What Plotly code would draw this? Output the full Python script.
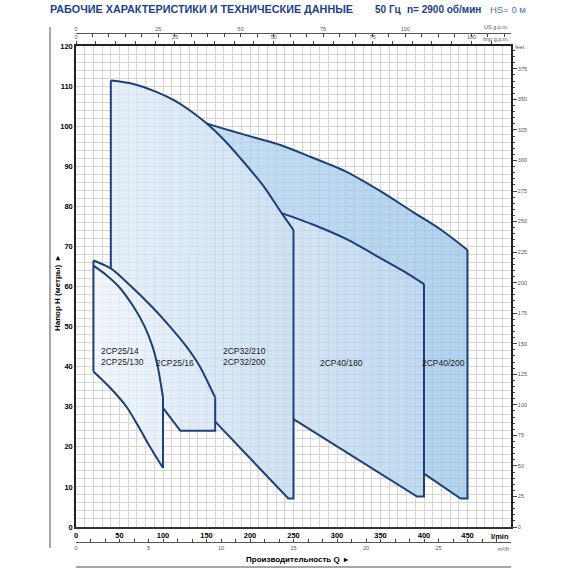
import plotly.graph_objects as go

# ---------------- data (Q in l/min, H in m) ----------------
# 2CP25/14 - 2CP25/130 : upper (inner) curve and lower curve
q25_14_top = [20, 34, 49, 66, 79, 88, 94, 98, 100]
h25_14_top = [65.2, 63.0, 60.0, 55.0, 50.0, 45.0, 40.0, 35.0, 32.3]
q25_14_low = [20, 39, 58, 72, 85, 100]
h25_14_low = [38.8, 34.8, 30.0, 25.0, 20.0, 14.7]

# 2CP25/16 : upper (outer) curve, lower boundary
q25_16_top = [20, 40, 62, 87, 108, 127, 142.5, 154, 160]
h25_16_top = [66.5, 64.5, 60.3, 55.0, 50.0, 45.0, 40.0, 35.0, 32.3]
q25_16_low = [100, 120, 160]
h25_16_low = [29.7, 24.0, 24.0]

# 2CP32/210 - 2CP32/200 : upper curve, lower line
q32_top = [40, 65, 93, 115, 131, 150, 170, 189, 205, 216, 236.4, 250]
h32_top = [111.4, 110.6, 108.5, 106.2, 103.9, 100.7, 96.6, 92.0, 87.9, 84.9, 78.3, 74.1]
q32_low = [160, 244, 250]
h32_low = [26.3, 7.1, 7.1]

# 2CP40/180 : upper curve, lower line
q40_180_top = [236.4, 273, 311, 349, 375, 400]
h40_180_top = [78.3, 75.4, 71.8, 67.2, 64.0, 60.6]
q40_180_low = [250, 392, 400]
h40_180_low = [26.9, 7.6, 7.6]

# 2CP40/200 : upper curve, lower line
q40_200_top = [150, 177, 208, 235, 270, 311, 349, 388, 420, 450]
h40_200_top = [100.7, 98.9, 97.0, 95.3, 92.3, 88.6, 83.9, 78.5, 74.1, 69.1]
q40_200_low = [400, 442, 450]
h40_200_low = [13.3, 7.1, 7.1]

model_labels = ["2CP25/14<br>2CP25/130", "2CP25/16", "2CP32/210<br>2CP32/200",
                "2CP40/180", "2CP40/200"]
label_q = [27, 114, 167, 305, 422]
label_h = [42.5, 41.0, 42.5, 41.0, 41.0]
label_anchor = ["left", "center", "left", "center", "center"]

q_ticks = [0, 50, 100, 150, 200, 250, 300, 350, 400, 450]
h_ticks = [0, 10, 20, 30, 40, 50, 60, 70, 80, 90, 100, 110, 120]
feet_ticks = [0, 25, 50, 75, 100, 125, 150, 175, 200, 225, 250, 275, 300, 325, 350, 375]
usgpm_ticks = [0, 25, 50, 75, 100]
impgpm_ticks = [0, 25, 50, 75, 100]
m3h_ticks = [0, 5, 10, 15, 20, 25]

Q_MAX = 500
H_MAX = 120

# ---------------- build region outlines ----------------
def pts(qs, hs):
    return list(zip(qs, hs))

def seg(qs, hs, lo, hi):
    return [(q, h) for q, h in zip(qs, hs) if lo <= q <= hi]

def rev(p):
    return list(reversed(p))

top14, low14 = pts(q25_14_top, h25_14_top), pts(q25_14_low, h25_14_low)
top16, low16 = pts(q25_16_top, h25_16_top), pts(q25_16_low, h25_16_low)
top32, low32 = pts(q32_top, h32_top), pts(q32_low, h32_low)
top180, low180 = pts(q40_180_top, h40_180_top), pts(q40_180_low, h40_180_low)
top200, low200 = pts(q40_200_top, h40_200_top), pts(q40_200_low, h40_200_low)

poly_25_14 = top14 + rev(low14)
poly_25_16 = top16 + rev(low16) + [top14[-1]] + rev(top14)[1:]
poly_32 = ([top16[1]] + top32 + [(top32[-1][0], low32[-1][1])] + rev(low32)
           + rev(seg(q25_16_top, h25_16_top, q25_16_top[1], q25_16_top[-1])))
poly_40_180 = top180 + rev(low180) + [top32[-1]]
poly_40_200 = (top200 + rev(low200) + rev(top180)
               + rev(seg(q32_top, h32_top, q40_200_top[0], q40_180_top[0]))[1:])

regions = [
    (poly_40_200, "rgba(176,210,238,0.72)", "rgba(148,192,230,0.72)"),
    (poly_40_180, "rgba(198,221,242,0.72)", "rgba(168,202,234,0.72)"),
    (poly_32, "rgba(220,234,247,0.72)", "rgba(188,215,239,0.72)"),
    (poly_25_16, "rgba(236,243,251,0.72)", "rgba(208,226,244,0.72)"),
    (poly_25_14, "rgba(236,243,251,0.72)", "rgba(222,235,248,0.72)"),
]

curves = [top14, low14, top16, top32, top180, top200]
straights = [
    [top14[0], low14[0]], [top14[-1], low14[-1]],
    [top16[0], top14[0]],
    [top14[-1]] + low16 + [top16[-1]],
    [top16[1], top32[0]],
    [top32[-1], (top32[-1][0], low32[-1][1])] + rev(low32),
    [top180[-1], (top180[-1][0], low180[-1][1])] + rev(low180),
    [top200[-1], (top200[-1][0], low200[-1][1])] + rev(low200),
]

LINE = "#1e3f7a"
SANS = "Liberation Sans, Arial, sans-serif"

fig = go.Figure()
for poly, c0, c1 in regions:
    xs = [p[0] for p in poly] + [poly[0][0]]
    ys = [p[1] for p in poly] + [poly[0][1]]
    fig.add_trace(go.Scatter(
        x=xs, y=ys, mode="lines", fill="toself",
        fillgradient=dict(type="horizontal", colorscale=[[0, c0], [1, c1]]),
        line=dict(width=0), hoverinfo="skip", showlegend=False))

for c in curves:
    fig.add_trace(go.Scatter(x=[p[0] for p in c], y=[p[1] for p in c], mode="lines",
                             line=dict(color=LINE, width=2, shape="spline", smoothing=0.8),
                             hoverinfo="skip", showlegend=False))
for s in straights:
    fig.add_trace(go.Scatter(x=[p[0] for p in s], y=[p[1] for p in s], mode="lines",
                             line=dict(color=LINE, width=2),
                             hoverinfo="skip", showlegend=False))

for xa, ya in [("x2", "y"), ("x3", "y"), ("x4", "y"), ("x", "y2")]:
    fig.add_trace(go.Scatter(x=[0], y=[0], xaxis=xa, yaxis=ya, mode="markers",
                             marker=dict(opacity=0), showlegend=False, hoverinfo="skip"))

# paper geometry
L, R, T, B = 76, 59, 20, 10
W = H = 570
PW = W - L - R
PH = H - T - B
def px(x):
    return (x - L) / PW
def py(y):
    return (H - B - y) / PH

plot_top, plot_bot = 46, 527
ydom = [py(plot_bot), py(plot_top)]

GRID = "#d5d5d5"
small = dict(family=SANS, size=5.5, color="#555555")
tickbold = dict(family=SANS, size=7.5, color="black", weight="bold")

fig.update_layout(
    width=W, height=H, autosize=False,
    margin=dict(l=L, r=R, t=T, b=B, autoexpand=False),
    paper_bgcolor="white", plot_bgcolor="white",
    showlegend=False,
    xaxis=dict(range=[0, Q_MAX], tickmode="array", tickvals=q_ticks,
               showgrid=True, gridcolor=GRID, gridwidth=1, zeroline=False,
               minor=dict(tickmode="linear", tick0=0, dtick=10, showgrid=True,
                          gridcolor=GRID, gridwidth=1),
               showline=True, linecolor="#333333", linewidth=2,
               ticks="", tickfont=tickbold, fixedrange=True, automargin=False),
    yaxis=dict(range=[0, H_MAX], domain=ydom, tickmode="array", tickvals=h_ticks,
               showgrid=True, gridcolor=GRID, gridwidth=1, zeroline=False,
               minor=dict(tickmode="linear", tick0=0, dtick=2, showgrid=True,
                          gridcolor=GRID, gridwidth=1),
               showline=True, linecolor="#222222", linewidth=1.5,
               ticks="", tickfont=tickbold, fixedrange=True, automargin=False),
    xaxis2=dict(range=[0, Q_MAX / 4.54609], overlaying="x", side="top", anchor="y",
                tickmode="array", tickvals=impgpm_ticks, ticks="outside", ticklen=3,
                tickcolor="#444444", automargin=False,
                minor=dict(tickmode="linear", tick0=0, dtick=5, ticks="outside",
                           ticklen=3, tickcolor="#444444"),
                showgrid=False, zeroline=False, showline=True, linecolor="#222222",
                linewidth=1.5, tickfont=small),
    xaxis3=dict(range=[0, Q_MAX / 3.78541], overlaying="x", side="top", anchor="free",
                position=py(33), tickmode="array", tickvals=usgpm_ticks,
                ticks="inside", ticklen=3, tickcolor="#444444", automargin=False,
                minor=dict(tickmode="linear", tick0=0, dtick=5, ticks="inside",
                           ticklen=3, tickcolor="#444444"),
                showgrid=False, zeroline=False, showline=True, linecolor="#555555",
                linewidth=1, tickfont=small),
    xaxis4=dict(range=[0, Q_MAX * 0.06], overlaying="x", side="bottom", anchor="free",
                position=py(542), tickmode="array", tickvals=m3h_ticks,
                ticks="inside", ticklen=3, tickcolor="#444444", automargin=False,
                minor=dict(tickmode="linear", tick0=0, dtick=1, ticks="inside",
                           ticklen=3, tickcolor="#444444"),
                showgrid=False, zeroline=False, showline=True, linecolor="#555555",
                linewidth=1, tickfont=small),
    yaxis2=dict(range=[0, H_MAX / 0.3048], overlaying="y", side="right", anchor="x",
                tickmode="array", tickvals=feet_ticks, ticks="outside", ticklen=4,
                tickcolor="#444444", automargin=False,
                minor=dict(tickmode="linear", tick0=0, dtick=5, ticks="outside",
                           ticklen=2, tickcolor="#444444"),
                showgrid=False, zeroline=False, showline=True, linecolor="#222222",
                linewidth=1.5, tickfont=small),
)

ann = []
for txt, q, h, a in zip(model_labels, label_q, label_h, label_anchor):
    ann.append(dict(x=q, y=h, xref="x", yref="y", text=txt, showarrow=False,
                    xanchor=a, yanchor="middle", align="left",
                    font=dict(family=SANS, size=8.5, color="#1a1a1a")))

TITLE_BLUE = "#1d3f8e"
ann += [
    dict(x=px(48), y=py(9), xref="paper", yref="paper", xanchor="left", yanchor="middle",
         text="РАБОЧИЕ ХАРАКТЕРИСТИКИ И ТЕХНИЧЕСКИЕ ДАННЫЕ", showarrow=False,
         font=dict(family=SANS, size=10.8, color=TITLE_BLUE, weight="bold")),
    dict(x=px(373), y=py(9), xref="paper", yref="paper", xanchor="left", yanchor="middle",
         text="50 Гц", showarrow=False,
         font=dict(family=SANS, size=10, color=TITLE_BLUE, weight="bold")),
    dict(x=px(405), y=py(9), xref="paper", yref="paper", xanchor="left", yanchor="middle",
         text="n= 2900 об/мин", showarrow=False,
         font=dict(family=SANS, size=10, color=TITLE_BLUE, weight="bold")),
    dict(x=px(488), y=py(9), xref="paper", yref="paper", xanchor="left", yanchor="middle",
         text="HS= 0 м", showarrow=False,
         font=dict(family=SANS, size=9.5, color="#4a73bf")),
    dict(x=1.0, y=py(27), xref="paper", yref="paper", xanchor="right", yanchor="middle",
         text="US g.p.m.", showarrow=False, font=small),
    dict(x=1.0, y=py(39), xref="paper", yref="paper", xanchor="right", yanchor="middle",
         text="Imp g.p.m.", showarrow=False, font=small),
    dict(x=px(513), y=py(47), xref="paper", yref="paper", xanchor="left", yanchor="middle",
         text="feet", showarrow=False, font=small),
    dict(x=1.0, y=py(536), xref="paper", yref="paper", xanchor="right", yanchor="middle",
         text="l/min", showarrow=False, font=tickbold),
    dict(x=1.0, y=py(549), xref="paper", yref="paper", xanchor="right", yanchor="middle",
         text="m³/h", showarrow=False, font=small),
    dict(x=px(297), y=py(559), xref="paper", yref="paper", xanchor="center", yanchor="middle",
         text="Производительность Q  ▸", showarrow=False,
         font=dict(family=SANS, size=8, color="black", weight="bold")),
    dict(x=px(57), y=py(293), xref="paper", yref="paper", xanchor="center", yanchor="middle",
         text="Напор H (метры)  ▸", showarrow=False, textangle=-90,
         font=dict(family=SANS, size=8, color="black", weight="bold")),
]
fig.update_layout(annotations=ann)

fig.update_layout(shapes=[
    dict(type="line", xref="paper", yref="paper", x0=px(50), x1=px(50),
         y0=py(548), y1=py(27), line=dict(color="#8a8a8a", width=1.5)),
    dict(type="line", xref="paper", yref="paper", x0=0, x1=1,
         y0=py(567), y1=py(567), line=dict(color="#8a8a8a", width=1.5)),
])

fig.write_html("out.html",
               config={"displayModeBar": False, "responsive": False},
               post_script="document.body.style.margin='0px';")
